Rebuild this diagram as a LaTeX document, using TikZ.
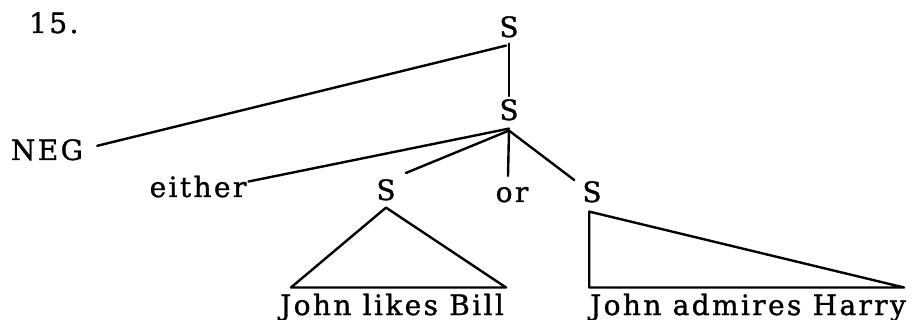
\documentclass[tikz,border=0pt]{standalone}
\usepackage{fontspec}
\setmainfont{DejaVu Serif}[LetterSpace=8.5,FakeBold=1.2]
\begin{document}
\begin{tikzpicture}[x=1pt,y=-1pt,
  lbl/.style={inner sep=0pt, anchor=base, font=\fontsize{28}{34}\selectfont},
  edge/.style={line width=2.4pt, line cap=round, line join=round}]
\useasboundingbox (0,0) rectangle (912,320);
\node[lbl, anchor=base west] (num) at (29,33) {15.};
\node[lbl] (s1) at (509,37) {S};
\node[lbl] (s2) at (509,120) {S};
\node[lbl] (neg) at (47,160) {NEG};
\node[lbl] (either) at (198,197) {either};
\node[lbl] (sl) at (386,200) {S};
\node[lbl] (or) at (512,202) {or};
\node[lbl] (sr) at (592,202) {S};
\node[lbl] (t1) at (392,315) {John likes Bill};
\node[lbl] (t2) at (748,315) {John admires Harry};
% connectors
\draw[edge] ([yshift=-6pt]s1.south) -- ([yshift=3pt]s2.north);
\draw[edge] ([xshift=-3pt,yshift=-8pt]s1.south) -- ([xshift=14pt,yshift=4pt]neg.east);
\draw[edge] ([yshift=-8pt]s2.south) -- ([xshift=2pt,yshift=-6pt]either.north east);
\draw[edge] ([yshift=-10pt]s2.south) -- ([xshift=10pt,yshift=6pt]sl.north east);
\draw[edge] ([yshift=-10pt]s2.south) -- ([xshift=-4pt,yshift=11pt]or.north);
\draw[edge] ([yshift=-10pt]s2.south) -- ([xshift=-8pt,yshift=1pt]sr.north west);
% triangles
\draw[edge] ([yshift=-7pt]sl.south) -- ([xshift=11pt,yshift=6pt]t1.north west)
  -- ([xshift=2pt,yshift=6pt]t1.north east) -- cycle;
\draw[edge] ([xshift=7pt,yshift=-9pt]sr.south west) |- ([xshift=-2pt,yshift=6pt]t2.north east) -- cycle;
\end{tikzpicture}
\end{document}
